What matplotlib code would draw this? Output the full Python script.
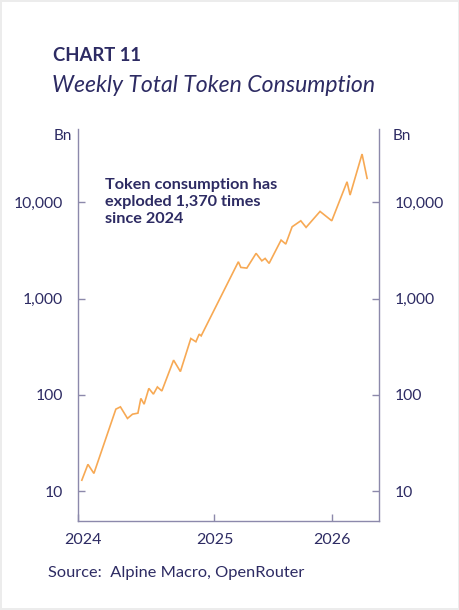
import matplotlib
matplotlib.use("Agg")
import matplotlib.pyplot as plt
from matplotlib.ticker import FixedLocator, NullLocator
from matplotlib.transforms import ScaledTranslation

# ---- data ----
years = [2023.870, 2023.922, 2023.973, 2024.160, 2024.199, 2024.259, 2024.302,
         2024.348, 2024.373, 2024.401, 2024.441, 2024.480, 2024.514, 2024.552,
         2024.652, 2024.710, 2024.799, 2024.842, 2024.870, 2024.887, 2025.204,
         2025.225, 2025.276, 2025.355, 2025.404, 2025.432, 2025.466, 2025.568,
         2025.608, 2025.662, 2025.736, 2025.781, 2025.900, 2026.000, 2026.130,
         2026.156, 2026.258, 2026.301]
tokens_bn = [13.0, 19.0, 15.3, 71.2, 75.2, 57.0, 63.1, 64.7, 92.0, 80.2, 117,
             102, 121, 110, 230, 175, 386, 357, 428, 411, 2420, 2115, 2080,
             2960, 2475, 2622, 2330, 4065, 3697, 5590, 6450, 5510, 8070, 6450,
             16400, 11940, 31840, 17800]
x_tick_pos = [2023.84, 2025.0, 2026.0]
x_tick_labels = ["2024", "2025", "2026"]
y_ticks = [10, 100, 1000, 10000]
y_tick_labels = ["10", "100", "1,000", "10,000"]

NAVY = "#2d2b63"
ORANGE = "#f7a954"
SPINE = "#8c89ab"
FONT = "Lato"

fig = plt.figure(figsize=(4.6, 6.1), dpi=100)
fig.patch.set_facecolor("white")
ax = fig.add_axes([78.3 / 460, (610 - 521) / 610, (379.3 - 78.3) / 460, (521 - 129) / 610])

ax.plot(years, tokens_bn, color=ORANGE, lw=1.2, solid_joinstyle="miter")
ax.set_yscale("log")
ax.set_ylim(4.9, 58000)
ax.set_xlim(2023.84, 2026.405)

ax.yaxis.set_major_locator(FixedLocator(y_ticks))
ax.yaxis.set_minor_locator(NullLocator())
ax.set_yticklabels(y_tick_labels)
ax.set_xticks(x_tick_pos)
ax.set_xticklabels(x_tick_labels)

for s in ["left", "right", "bottom"]:
    ax.spines[s].set_color(SPINE)
    ax.spines[s].set_linewidth(1.0)
ax.spines["top"].set_visible(False)

ax.tick_params(axis="y", which="both", direction="in", length=5, width=1,
               color=SPINE, left=True, right=True, labelleft=True,
               labelright=True, labelsize=11.3, labelcolor=NAVY, pad=11)
ax.tick_params(axis="x", direction="in", length=5, width=1, color=SPINE,
               labelsize=11.5, labelcolor=NAVY, pad=9)
for lab in ax.get_xticklabels() + ax.get_yticklabels():
    lab.set_fontfamily(FONT)
for t in ax.yaxis.get_major_ticks():
    t.label2.set_fontfamily(FONT)
    t.label2.set_color(NAVY)
    t.label2.set_fontsize(11.3)

first = ax.get_xticklabels()[0]
first.set_transform(first.get_transform() + ScaledTranslation(5 / 100, 0, fig.dpi_scale_trans))

# titles
fig.text(53 / 460, 1 - 60.7 / 610, "CHART 11", fontfamily=FONT, fontweight="bold",
         fontsize=13.3, color=NAVY, va="baseline", ha="left")
fig.text(52 / 460, 1 - 91.7 / 610, "Weekly Total Token Consumption", fontfamily=FONT,
         fontstyle="italic", fontsize=16.6, color=NAVY, va="baseline", ha="left")

# unit labels
fig.text(72 / 460, 1 - 139.5 / 610, "Bn", fontfamily=FONT, fontsize=11, color=NAVY,
         va="baseline", ha="right")
fig.text(393 / 460, 1 - 139.5 / 610, "Bn", fontfamily=FONT, fontsize=11, color=NAVY,
         va="baseline", ha="left")

# annotation
fig.text(105.5 / 460, 1 - 178.5 / 610,
         "Token consumption has\nexploded 1,370 times\nsince 2024",
         fontfamily=FONT, fontweight="bold", fontsize=11.7, color=NAVY,
         va="top", ha="left", linespacing=1.25)

# source
fig.text(48 / 460, 1 - 577 / 610, "Source:  Alpine Macro, OpenRouter", fontfamily=FONT,
         fontsize=11.8, color=NAVY, va="baseline", ha="left")

fig.patch.set_edgecolor("#ececec")
fig.patch.set_linewidth(1.5)

fig.savefig("out.png", dpi=100, facecolor=fig.get_facecolor(), edgecolor=fig.get_edgecolor())
